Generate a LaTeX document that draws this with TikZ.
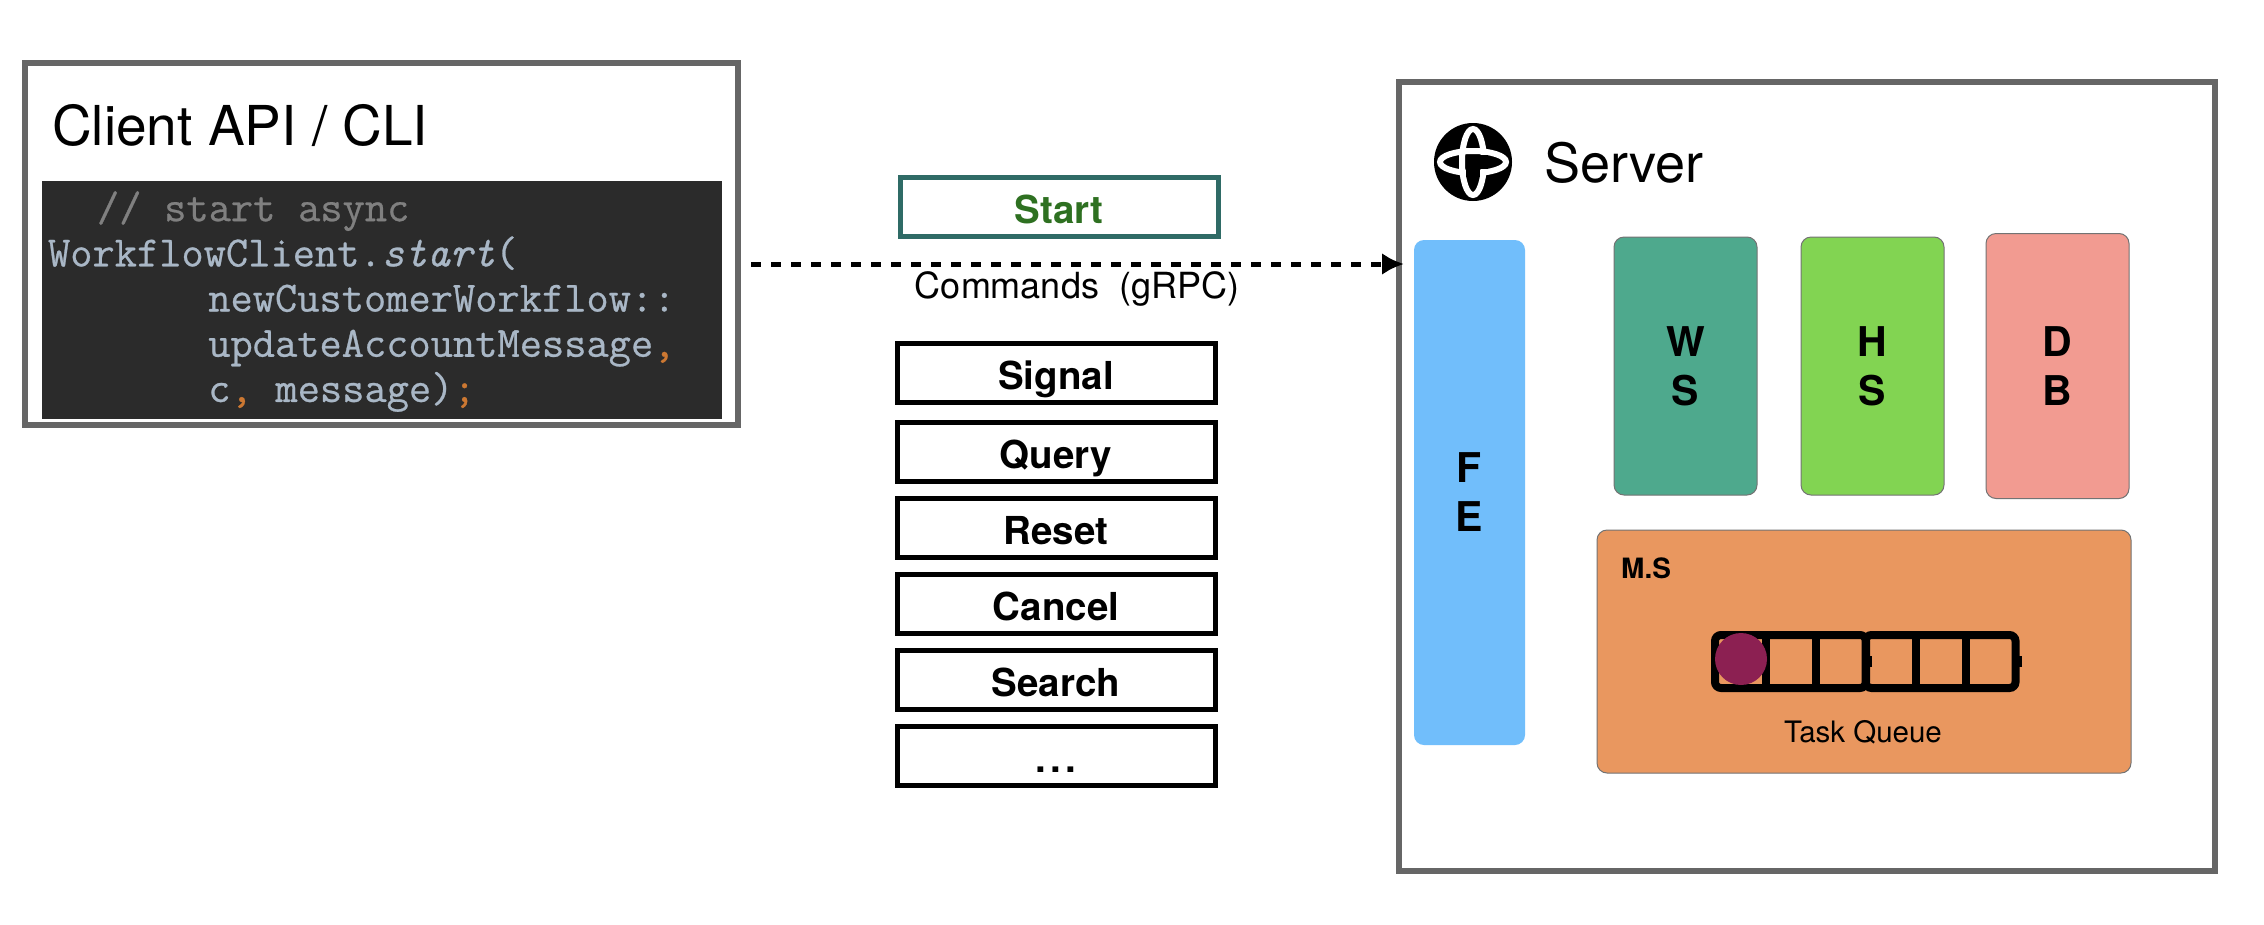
\documentclass[tikz,border=0pt]{standalone}
\usepackage{fontspec}
\usetikzlibrary{arrows.meta}
\setmainfont{TeX Gyre Heros}
\setmonofont{Latin Modern Mono}[FakeBold=0.6]
\definecolor{frame}{HTML}{666666}
\definecolor{codebg}{HTML}{2B2B2B}
\definecolor{codefg}{HTML}{A9B7C6}
\definecolor{codecm}{HTML}{808080}
\definecolor{codeor}{HTML}{CC7832}
\definecolor{startedge}{HTML}{2F6B66}
\definecolor{starttext}{HTML}{2E7021}
\definecolor{fecol}{HTML}{71BEFB}
\definecolor{wscol}{HTML}{4EA98D}
\definecolor{hscol}{HTML}{82D452}
\definecolor{dbcol}{HTML}{F29B91}
\definecolor{mscol}{HTML}{E9975F}
\definecolor{taskcol}{HTML}{8C2052}

\begin{document}
\begin{tikzpicture}[x=1pt,y=-1pt,>={Latex[length=22pt,width=22pt]},
    panel/.style={draw=frame,line width=6pt,fill=white,inner sep=0pt},
    cmdbox/.style={draw=black,line width=5pt,minimum width=318pt,minimum height=59pt,inner sep=0pt,text height=32pt,text depth=0pt,font=\fontsize{38.5}{46}\selectfont\bfseries},
    service/.style={draw=black!55,line width=1pt,rounded corners=10pt,minimum width=143pt,minimum height=258pt,inner sep=0pt,align=center,font=\fontsize{41}{49}\selectfont\bfseries},
    cell/.style={minimum width=50pt,minimum height=53pt,inner sep=0pt},
    qframe/.style={draw=black,line width=8pt,rounded corners=6pt,minimum height=53pt,inner sep=0pt},
    divider/.style={draw=black,line width=8pt},
    nub/.style={fill=black,minimum width=5pt,minimum height=11pt,inner sep=0pt}]
    \useasboundingbox (0,0) rectangle (2264,924);

    % client side
    \node (client) [panel,minimum width=713pt,minimum height=362pt] at (381.5,244) {};
    \node (clienttitle) [anchor=west,inner sep=0pt,font=\fontsize{55}{66}\selectfont] at (52,126) {Client API / CLI};
    \node (code) [fill=codebg,text=codefg,minimum width=680pt,minimum height=238pt,text width=668pt,inner sep=0pt,align=left,
        font=\fontsize{43.2}{45.2}\selectfont\ttfamily] at (382,300) {%
        \spaceskip=22.7pt\relax
        \rule{0pt}{33pt}\hspace*{1.135em}{\color{codecm}// start async}\\
        WorkflowClient.{\itshape start}(\\
        \hspace*{3.71em}newCustomerWorkflow::\\
        \hspace*{3.71em}updateAccountMessage{\color{codeor},}\\
        \hspace*{3.71em}c{\color{codeor},} message){\color{codeor};}};

    % commands
    \node (start) [cmdbox,draw=startedge,text=starttext] at (1059,207) {Start};
    \node (signal) [cmdbox] at (1056,373) {Signal};
    \node (query) [cmdbox,below of=signal,node distance=79pt] {Query};
    \node (reset) [cmdbox,below of=query,node distance=76pt] {Reset};
    \node (cancel) [cmdbox,below of=reset,node distance=76pt] {Cancel};
    \node (search) [cmdbox,below of=cancel,node distance=76pt] {Search};
    \node (more) [cmdbox,below of=search,node distance=76pt] {.\kern4pt.\kern4pt.};
    \node (commands) [inner sep=0pt,font=\fontsize{36}{44}\selectfont] at (1077,289) {Commands\ \ (gRPC)};

    % server side
    \node (server) [panel,minimum width=816pt,minimum height=789pt] at (1807,476.5) {};
    \node (logo) [circle,fill=black,minimum size=78pt,inner sep=0pt] at (1473,162) {};
    \draw[white,line width=6pt] (logo.center) ellipse [x radius=33pt,y radius=11pt];
    \draw[white,line width=6pt] (logo.center) ellipse [x radius=11pt,y radius=33pt];
    \fill[black] ([shift={(-7.4,-7.4)}]logo.center) rectangle ([shift={(15,7.4)}]logo.center);
    \fill[black] ([shift={(-7.4,-7.4)}]logo.center) rectangle ([shift={(7.4,15)}]logo.center);
    \node (servertitle) [anchor=west,inner sep=0pt,font=\fontsize{54}{65}\selectfont] at (1544,163) {Server};

    \node (fe) [service,draw=none,fill=fecol,minimum width=111pt,minimum height=505pt] at (1469.5,492.5) {F\\E};
    \node (ws) [service,fill=wscol] at (1685.5,366) {W\\S};
    \node (hs) [service,fill=hscol,right of=ws,node distance=187pt] {H\\S};
    \node (db) [service,fill=dbcol,minimum height=265pt,right of=hs,node distance=185pt] {D\\B};
    \node (ms) [service,fill=mscol,minimum width=534pt,minimum height=243pt] at (1864,651.5) {};
    \node (mslabel) [anchor=west,inner sep=0pt,font=\fontsize{28}{34}\selectfont\bfseries] at (1621,568) {M.S};

    \node (cell1) [cell] at (1740.5,661.5) {};
    \node (cell2) [cell,right of=cell1,node distance=50pt] {};
    \node (cell3) [cell,right of=cell2,node distance=50pt] {};
    \node (cell4) [cell,right of=cell3,node distance=50pt] {};
    \node (cell5) [cell,right of=cell4,node distance=50pt] {};
    \node (cell6) [cell,right of=cell5,node distance=50pt] {};
    \node (queue1) [qframe,minimum width=151pt,right of=cell1,node distance=50pt] {};
    \node (queue2) [qframe,minimum width=150pt,right of=cell4,node distance=50pt] {};
    \draw[divider] (cell1.north east) -- (cell1.south east);
    \draw[divider] (cell2.north east) -- (cell2.south east);
    \draw[divider] (cell4.north east) -- (cell4.south east);
    \draw[divider] (cell5.north east) -- (cell5.south east);
    \node (nub1) [nub,xshift=-1pt] at (queue1.east) {};
    \node (nub2) [nub] at (queue2.east) {};
    \node (task) [circle,fill=taskcol,minimum size=52pt,inner sep=0pt] at (1741,659) {};
    \node (tasklabel) [inner sep=0pt,font=\fontsize{29.5}{35}\selectfont] at (1863,732) {Task Queue};

    % the command arrow
    \coordinate (cmdout) at (751,264);
    \coordinate (cmdin) at (1404,264);
    \draw[->,line width=5pt,dash pattern=on 10pt off 10pt] (cmdout) -- (cmdin);
\end{tikzpicture}
\end{document}
